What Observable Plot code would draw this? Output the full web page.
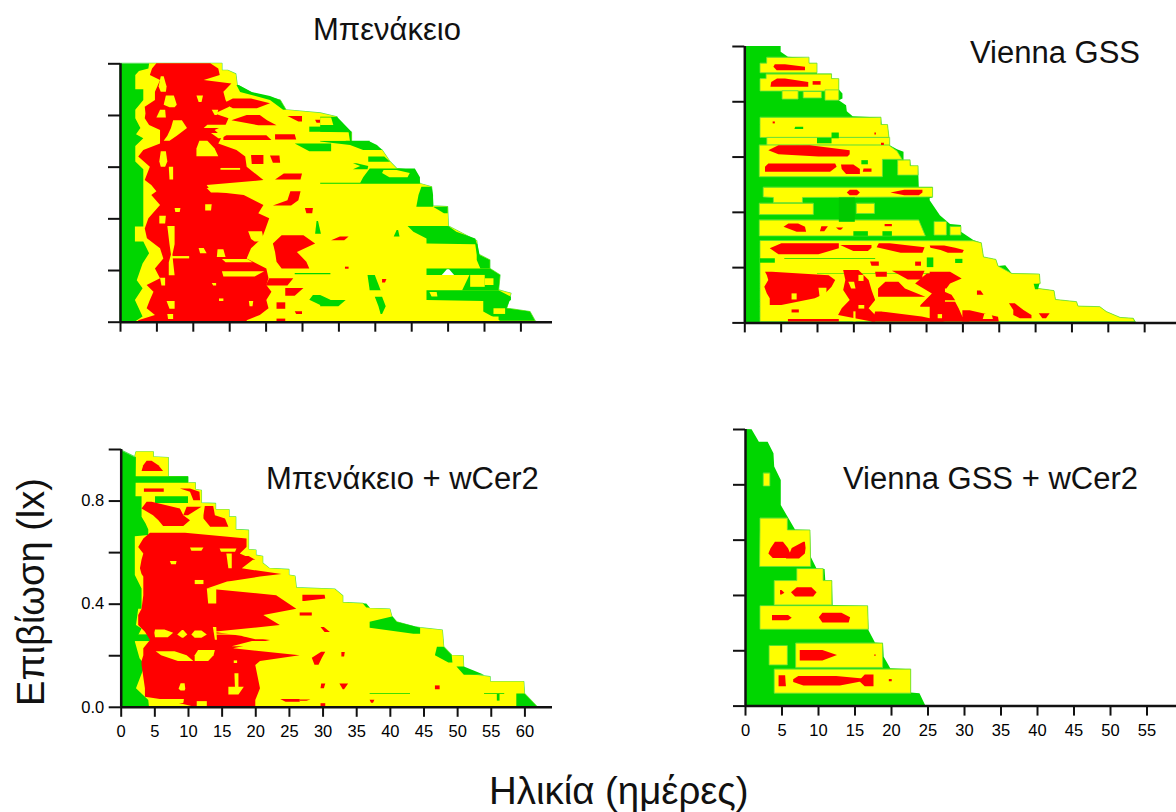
<!DOCTYPE html>
<html><head><meta charset="utf-8">
<script src="https://cdn.jsdelivr.net/npm/d3@7"></script>
<script src="https://cdn.jsdelivr.net/npm/@observablehq/plot@0.6"></script>
<style>
html,body{margin:0;padding:0;background:#fff;width:1176px;height:812px;overflow:hidden;font-family:"Liberation Sans",Arial,sans-serif}
#root{position:relative;width:1176px;height:812px;overflow:hidden}
#root svg{position:absolute;background:transparent;overflow:visible}
.t{position:absolute;white-space:nowrap;line-height:1;color:#111}
</style></head><body><div id="root"></div>
<script>
const GREEN="#00d600",YELLOW="#ffff00",RED="#ff0000",EDGE="#55e055";
const ageTicks=[0,5,10,15,20,25,30,35,40,45,50,55,60];
const lxTicks=[0,0.2,0.4,0.6,0.8,1];
const panelTitles=["Μπενάκειο","Vienna GSS","Μπενάκειο + wCer2","Vienna GSS + wCer2"];

// ---- Μπενάκειο: outline [lx, age]
const tlEdge=[[1,14],[.973,14],[.973,14.8],[.959,15.9],[.916,16.1],[.885,18.1],[.858,22],[.82,22.8],[.808,27.5],[.793,29.8],[.757,29.8],[.733,31.8],[.697,31.8],[.693,34.3],[.664,36],[.619,37.1],[.593,38],[.584,40.5],[.535,41.2],[.522,42.8],[.448,43],[.445,45],[.37,45.1],[.313,49],[.262,49.2],[.239,50.8],[.206,50.8],[.181,52.2],[.123,52],[.11,53.7],[.052,53.1],[.039,56.3],[.004,57],[0,57.2]];
const tlLeft=[[1,4],[.98,3.9],[.97,2.6],[.955,2.1],[.90,2.1],[.90,3.2],[.858,3.2],[.82,2.1],[.787,2.1],[.75,2.8],[.725,2.2],[.71,3.2],[.68,2.1],[.62,2.1],[.59,3.2],[.529,3.2],[.368,3.2],[.368,2.05],[.31,2.05],[.31,3.2],[.265,4],[.225,3.1],[.16,2.3],[.129,3.1],[.084,2.05],[.02,3.1],[0,2]];
const tlPatches=[
[[.916,16,16.3],[.889,16.5,18.1],[.873,18.6,20.6],[.858,20.6,22],[.82,22.4,22.8]],
[[.793,27.5,29.8],[.735,27.5,31.8],[.732,31.4,31.8],[.697,31.6,31.8]],
[[.7,27.5,34.3],[.697,27.5,34.3],[.684,31.6,35.3],[.664,33.4,36]],
[[.639,34.1,36.3],[.619,34.1,37.1]],
[[.613,32,32.5],[.603,33,34.1],[.59,32,34]],
[[.593,34.3,40.5],[.559,33.4,41.2],[.538,33,41.2],[.538,27.5,41.2],[.534,27.5,41.2]],
[[.522,41.4,42.8],[.49,41,43],[.445,40.7,43]],
[[.445,43,45],[.42,44.5,45]],
[[.37,39.5,45.1],[.348,40.3,46.2],[.322,42.1,48.8],[.303,42.1,49],[.30,48.8,49.1],[.258,49,49.4],[.239,49,50.8],[.206,49.5,50.8]],
[[.206,42.1,50.8],[.181,42.1,52.2]],
[[.181,48,52.2],[.122,47,52]],
[[.122,42.1,52],[.097,42.1,53.7],[.084,42.1,53.7],[.08,49.9,53.5],[.052,49.9,53.1],[.039,49.9,56.3],[.004,52.2,57]],
[[.355,38,38.2],[.33,37.6,38.4]],
[[.181,34,35],[.122,34.3,35.8]],
[[.084,27.5,31],[.06,27.5,30]],
[[.097,35,36],[.06,35.5,36.5],[.03,35.8,36]],
[[.69,24,29],[.66,26,29]],
[[.755,26,28.9],[.735,26,28.9]],
[[.103,26.5,27.5],[.085,26,28.9],[.065,27.5,28.9]],
[[.39,27,27.2],[.34,26.8,27.6]],
[[.188,24,28.9],[.184,24,28.9]]
];
const tlRed=[
[[1,5,12.4],[.98,4.4,13.5],[.955,4.1,13.7],[.935,5.5,11.5],[.922,5.3,15.3],[.89,4.8,14.2],[.858,4.8,14.5],[.832,3.4,15],[.806,3.5,13],[.787,3.4,14.9],[.761,4,14.5],[.742,5.5,13],[.716,5.5,14],[.69,5.5,13.5],[.664,3.2,16],[.639,2.5,17.2],[.6,4.1,17.4],[.548,3.4,19.7],[.529,4.3,11.9],[.505,5,12.5],[.49,4.3,17],[.452,5.5,19.7],[.42,4.5,19],[.40,3.9,20.5],[.361,3.4,20],[.323,3.7,19.5],[.284,5.5,18],[.245,5.95,17.4],[.206,4.8,20.1],[.168,5.5,20.4],[.142,3.66,20.1],[.116,4.6,20.8],[.084,4.1,20.1],[.052,3.66,20.4],[.026,4.8,19.2],[.006,2.5,17.4],[0,2.5,17.4]],
[[.864,15.5,18],[.845,14.2,20.6],[.826,15.5,18.8]],
[[.8,17.4,19.2],[.78,15.3,20.2],[.76,19,21.5]],
[[.722,14.2,20.1],[.703,14.2,20.8]],
[[.725,21.3,24],[.705,21.3,24.2]],
[[.645,18,19.7],[.61,18.1,19.7]],
[[.643,20.6,21.9],[.615,21,22]],
[[.574,22.5,25],[.55,21.3,24.8]],
[[.796,23,25],[.775,24.5,25]],
[[.782,26.8,27.5],[.77,27,27.5]],
[[.335,22.2,25.2],[.303,21,26.8],[.27,21.3,24.3],[.232,21.5,25.6],[.206,22.2,26]],
[[.168,20.5,23.8],[.14,20,23]],
[[.13,22.7,25.2],[.10,22.7,24]],
[[.075,21.5,22.7],[.05,21.5,22.7]],
[[.04,24,25],[.03,24.2,25]],
[[.012,21.5,22.7],[0,21.5,22.7]],
[[.44,25.4,26.5],[.42,25.6,26.4]],
[[.505,23.4,24.8],[.47,23,24.5],[.45,21,23.5]],
[[.33,30.2,31.4],[.315,29,30.8]],
[[.213,30.9,31.4],[.205,30.9,31.4]],
[[.165,36,36.6],[.152,36,36.4]]
];
const tlHoles=[
[[.95,5.6,6],[.91,5.3,6.4],[.89,5.6,6.3]],
[[.875,6.3,7.4],[.84,6,7.8],[.83,6.8,7.5]],
[[.82,5.5,6.2],[.79,5,6.3]],
[[.875,10.5,11.4],[.85,10.8,11.2]],
[[.82,12.6,13.5],[.80,13,13.3]],
[[.78,7.3,8.5],[.75,7,9.2],[.72,6.5,7.8],[.70,6,6.8]],
[[.70,10.9,12],[.67,10.5,13],[.64,10.5,13.5]],
[[.66,5.6,6.3],[.62,5.4,6.5],[.60,5.6,6.2]],
[[.60,6.7,7.3],[.55,6.8,7.3]],
[[.595,13.8,16.5],[.588,13.8,16.5]],
[[.762,12,15],[.75,11.5,16.5]],
[[.73,12.5,15],[.71,13.5,14]],
[[.41,5.4,6.3],[.38,5.4,6.2]],
[[.37,6.5,7.5],[.30,6.8,7.5],[.26,7,7.2],[.23,6.7,7.3],[.18,6.7,7.5]],
[[.254,7,9.5],[.245,7,9.5]],
[[.44,7.5,8.3],[.425,7.6,8.2]],
[[.455,11.7,12.6],[.43,11.7,12.5]],
[[.285,10.8,11.5],[.265,11,11.9]],
[[.28,13.4,14.2],[.25,13.3,14.5]],
[[.243,14,17.5],[.23,14.5,18.2]],
[[.195,14,19.8],[.175,14.2,18.5]],
[[.17,5.5,6.2],[.14,5.7,6.2]],
[[.08,6.4,7.5],[.05,6.8,7.5]],
[[.03,6.5,7.3],[.01,6.6,7.3]],
[[.08,17.7,18.3],[.06,17.8,18.2]],
[[.30,19.7,21],[.26,20,21.2]],
[[.35,17.6,19.5],[.32,18,19.7],[.31,18.5,19.2]],
[[.275,19,19.8],[.26,19,19.5]],
[[.09,13.6,14.2],[.08,13.6,14.2]],
[[.15,12.6,13.2],[.14,12.8,13.2]],
[[.517,11.9,16.8],[.50,12.5,16.5]],
[[.587,36.2,38],[.575,36,39.8],[.559,37,39.5]],
[[.79,27.5,29],[.761,27.5,29.3]],
[[.732,27.5,31.4],[.70,27.5,31]],
[[.15,41.5,42.5],[.135,42,43]],
[[.181,48.1,50.1],[.135,48.1,50.1]],
[[.168,50.1,51.3],[.142,50.1,51.3]],
[[.115,42.5,43.5],[.098,42.8,43.6]],
[[.052,51.3,52.9],[.03,51.3,52.9]],
[[.02,49.5,52],[.004,49.5,52]]
];
const tlGaps=[[[.203,44.9,45.2],[.181,44.2,45.9]]];

// ---- Vienna GSS
const trEdge=[[1,0],[1,5],[.979,5],[.961,6],[.957,8.9],[.938,8.9],[.937,10],[.9,10],[.9,12],[.882,12],[.88,13],[.843,13],[.828,13.5],[.81,13.5],[.804,13],[.786,14],[.764,14.1],[.746,14.9],[.741,18.8],[.716,18.9],[.714,19.7],[.669,19.9],[.641,20],[.626,21],[.617,21.9],[.587,21.9],[.587,22.8],[.567,22.9],[.565,23.9],[.49,24],[.49,25.9],[.452,25.9],[.45,25.5],[.442,25.5],[.388,26.9],[.356,28.3],[.352,29.8],[.328,29.8],[.298,31.5],[.288,32.6],[.237,32.9],[.228,34.6],[.204,34.9],[.207,35.9],[.177,36.8],[.175,40.6],[.141,40.7],[.135,40],[.123,40.4],[.115,42.6],[.083,42.8],[.075,45.7],[.059,45.9],[.057,48.9],[.039,49.8],[.018,51.7],[.015,53.5],[0,53.9]];
const trYellow=[
[[.958,3.08,8.9],[.938,3.08,8.9],[.938,2.16,10],[.903,2.16,10]],
[[.898,3,12],[.882,3,12],[.882,2.16,13],[.837,2.16,13]],
[[.837,5.2,7.4],[.808,5.2,7.4]],
[[.834,8.1,10.6],[.812,8.1,10.6]],
[[.84,11.1,13],[.804,11.1,13]],
[[.741,2.16,18.8],[.716,2.16,18.8],[.716,2.16,19.7],[.669,2.16,19.9]],
[[.668,3.1,20],[.641,3.1,20]],
[[.641,2.06,19.9],[.62,2.06,21],[.59,2.06,21.7],[.59,2.06,19],[.527,2.06,19]],
[[.587,21.1,22.8],[.567,21.1,22.8],[.567,21.1,23.9],[.533,21.1,23.9]],
[[.488,2.6,25.9],[.454,2.6,25.9],[.452,4,8],[.433,4,8]],
[[.43,2.06,9.5],[.39,2.06,9.5]],
[[.43,15.4,17.9],[.394,15.4,17.9]],
[[.37,2.06,24],[.313,2.06,24.9]],
[[.364,26.1,27.8],[.316,26.1,27.8]],
[[.346,28.3,29.8],[.316,28.3,29.8]],
[[.295,2.16,31.5],[.288,2.16,32.6],[.237,2.16,32.9],[.228,2.16,34.6],[.204,2.16,34.9],[.177,2.16,36.8],[.175,2.16,40.6],[.141,2.16,40.7],[.135,2.16,40],[.123,2.16,40.4],[.115,2.16,42.6],[.083,2.16,42.8],[.075,2.16,45.7],[.059,2.16,45.9],[.057,2.16,48.9],[.039,2.16,49.8],[.018,2.16,51.7],[.015,2.16,53.5],[.003,2.16,53.7]]
];
const trPatches=[
[[.708,7,8.1],[.70,6.9,8.1]],
[[.668,10,12],[.648,10,12]],
[[.687,12,13],[.666,12,13]],
[[.587,16.1,17],[.572,16.1,17]],
[[.33,15,17],[.313,15,17]],
[[.33,19,20.3],[.313,19,20.3]],
[[.232,2.16,4.2],[.216,2.16,4.2]],
[[.235,25.1,26],[.2,25.1,26]],
[[.23,29,30],[.215,29,30]],
[[.14,39.8,40.6],[.12,40,40.4]],
[[.233,5.5,18],[.23,5.5,18]],
[[.178,10,26],[.176,10,26]]
];
const trDark=[[[.452,13,15.2],[.364,13,15.2]]];
const trRed=[
[[.934,4.2,5.6],[.925,4,8.35],[.912,4.45,8.35]],
[[.882,4.5,5.6],[.87,3.7,8.8],[.853,3.6,8.8]],
[[.873,9.4,10.5],[.86,9.4,10.5]],
[[.727,3.9,4.2],[.72,3.9,4.2]],
[[.687,17.9,18.1],[.68,17.9,18.1]],
[[.65,18.8,19.2],[.642,18.8,19.2]],
[[.641,4.7,9],[.623,3.3,14.5],[.608,4.7,14.5],[.6,10.2,14.2]],
[[.575,3.3,12.5],[.563,2.85,12.7],[.545,2.85,11.8]],
[[.571,13.3,15],[.555,13.4,15.9],[.537,14,15.9]],
[[.557,16.4,17.5],[.545,16.3,17.5]],
[[.48,14.5,15.5],[.47,14.1,15.9],[.46,14.5,15.5]],
[[.48,22,24.5],[.47,20.1,24.5],[.46,22,24]],
[[.358,6.06,7.4],[.346,5.4,8.35],[.328,7.2,8.5]],
[[.348,10.6,11.5],[.33,10.4,11]],
[[.343,12.6,13.6],[.335,13,13.3]],
[[.356,19.3,20.3],[.348,19.3,20.3]],
[[.286,5.1,13],[.268,3.5,13],[.247,4.7,10.2]],
[[.28,13.2,17.5],[.27,14,17.5],[.258,15,17]],
[[.286,18.5,20],[.272,18.2,24.8],[.252,21.5,24.5]],
[[.278,25.5,27.5],[.27,25.6,29],[.262,27,30.2],[.252,28,30]],
[[.22,17.3,18.5],[.205,17.5,18.5]],
[[.22,23.5,24.3],[.205,23.5,24.3]],
[[.183,2.85,3.8],[.171,3.1,11.6],[.153,3.3,12.5],[.129,2.75,12],[.105,3.1,11.1],[.087,3.5,9.7],[.063,3.5,5.1]],
[[.19,13.6,15.7],[.153,13.9,17.1],[.117,13.6,17.5],[.081,14.5,18],[.051,13.4,17.1],[.027,12.9,18],[.003,17.5,18]],
[[.183,18,19.6],[.165,18.1,19.6]],
[[.187,20.3,24.8],[.17,21.5,24.5],[.155,22.5,24.5]],
[[.147,19.4,21.2],[.123,18.4,22.1],[.093,18.4,24.9]],
[[.039,18,18.9],[.021,17.8,24.4],[.003,17.5,27.6]],
[[.177,25.1,27.6],[.141,23.5,27.6],[.105,25.8,27.6],[.057,24,27.6]],
[[.183,25.5,28.3],[.159,25.5,29.9],[.141,25.5,28.3],[.123,25.5,27.8]],
[[.117,25.5,27],[.10,27,28.5],[.08,25.5,29]],
[[.075,25.5,29],[.05,25.5,29.5],[.02,25.5,30],[.003,25.5,31]],
[[.044,30,31],[.02,30,34.9],[.003,30,35]],
[[.069,36.4,37.2],[.045,37,38.4],[.027,37,39.5],[.015,37.9,39.5]],
[[.033,40.5,42],[.015,41,41.5]],
[[.115,32,32.5],[.1,32,32.9]],
[[.047,6.5,7.5],[.036,6.5,7.5]],
[[.012,6,13],[.003,6,13]]
];
const trHoles=[
[[.147,14.3,15.1],[.123,14.7,15.3]],
[[.172,15.7,16.4],[.15,15.7,16.4]],
[[.105,6.5,7.2],[.083,6.5,7.2]],
[[.125,10.2,11.3],[.085,10.4,11.3]],
[[.063,15.7,16.5],[.05,15.7,16.5]],
[[.04,15,15.3],[.003,15,15.3]],
[[.087,18,24.2],[.05,18,24.2],[.04,19,23]],
[[.03,33,34],[.012,32.8,34.2]],
[[.03,26.6,27.2],[.015,26.6,27.2]]
];

// ---- Μπενάκειο + wCer2
const blEdge=[[1,0],[.995,.14],[.97,2.1],[.989,2.27],[.989,4.84],[.97,4.84],[.967,7.07],[.894,7.07],[.892,10],[.869,10],[.869,11.1],[.843,11.1],[.84,12],[.791,12],[.789,14.1],[.765,14.1],[.765,16.1],[.737,16.1],[.737,17.1],[.688,17.1],[.685,19],[.61,19],[.608,20.1],[.588,20.1],[.584,21.1],[.558,21.1],[.537,22.1],[.533,25],[.511,25],[.507,25.9],[.462,26.1],[.457,31.8],[.431,33],[.405,33],[.401,36],[.382,37],[.379,40],[.35,40.3],[.33,41],[.31,43.7],[.307,44.5],[.298,47.8],[.233,48],[.2,49.2],[.198,50.9],[.13,51],[.117,54.9],[.098,54.9],[.098,59.9],[.052,60],[0,61.9]];
const blLeft=[[.989,2.27],[.817,2.2],[.817,3.1],[.737,3.1],[.711,3.7],[.688,4.1],[.666,4.1],[.662,2.1],[.595,2.1],[.511,2.1],[.459,3.1],[.38,3.1],[.38,2.6],[.317,2.27],[.304,3.1],[.253,2.1],[.188,2.8],[.162,3.6],[.072,2.27],[.026,4.1],[0,4.2]];
const blPatches=[
[[.894,2.1,10],[.869,2.1,10]],
[[.817,5.1,10],[.791,5.1,10]],
[[.281,2.1,5.1],[.255,2.1,5.1]],
[[.401,36,36.5],[.385,36.5,37]],
[[.35,40.3,40.4],[.33,37,41],[.307,37,44.5],[.283,43.5,44.5]],
[[.233,47,48],[.2,46.7,49.2],[.172,48.7,49.3]],
[[.156,49.9,51],[.124,51,54]],
[[.052,58.8,60],[0,58.8,61.9]],
[[.053,37,43],[.05,37,43]],
[[.053,54,57],[.05,54,57]],
[[.05,55.9,56.3],[.024,55.9,56.3]]
];
const blRed=[
[[.954,3.85,4.6],[.937,3.35,5.6],[.915,3.1,6.3]],
[[.847,3.45,6.4],[.834,3.45,6.4]],
[[.847,8.8,10.3],[.834,10.3,11.7],[.801,10.8,11.8]],
[[.795,3.85,4.6],[.769,3.1,8.8],[.743,4.8,9.3],[.724,5.6,10.3],[.701,6.3,9.3]],
[[.776,9.8,12],[.743,9.3,10]],
[[.779,12.5,13.75],[.743,12.3,14],[.73,12.3,15.5],[.698,13.3,16]],
[[.675,4.35,9.55],[.653,3.36,18.7],[.62,2.6,18.7],[.595,3.36,17.7],[.571,3.1,19.7],[.537,2.86,18],[.515,3.1,23.9],[.505,3.36,20.7],[.485,3.36,15.7],[.459,3.36,12.8],[.433,3.36,23.1],[.38,3.1,26.1],[.356,2.6,21.2],[.317,2.6,23.65],[.291,3.6,13.75],[.259,4.35,22.2],[.227,3.36,16.7],[.2,3.36,26.6],[.178,3.1,20.7],[.162,3.1,20],[.072,3.6,20.7],[.039,3.6,20.2],[.026,6.8,20],[.001,10.8,20]],
[[.585,18,19],[.57,19,20]],
[[.435,27,30.3],[.42,27,30.4],[.41,27,27.3]],
[[.366,26.6,28.4],[.354,26.6,28.4]],
[[.31,29.7,30.2],[.29,30.3,31.1]],
[[.214,29.8,30.4],[.19,28.4,29.9],[.163,28.8,29.4]],
[[.213,32.8,33.3],[.195,32.8,33.2]],
[[.09,29.8,30.4],[.072,29.7,30.2]],
[[.09,32.5,33.8],[.068,33,33.2]],
[[.083,46.7,47.4],[.068,46.7,47.4]],
[[.027,37,37.7],[.016,37.2,37.5]],
[[.028,26.6,28.2],[.023,26.6,27.6]],
[[.014,29.7,30.4],[0,29.7,30.4]],
[[.03,23.7,26.6],[.02,24.5,26.6]]
];
const blHoles=[
[[.618,10.3,12.3],[.605,10.5,12]],
[[.614,14.7,17.2],[.601,14.9,17]],
[[.566,7.3,8.3],[.553,7.5,8.2]],
[[.595,15.7,16.5],[.537,16,16.5]],
[[.492,11,12.3],[.476,11,12.3]],
[[.459,12.8,14.2],[.401,13,14.2]],
[[.485,15.7,26],[.468,18,24]],
[[.30,5.1,6.5],[.287,5,7.8],[.27,5.1,7]],
[[.298,9.1,9.3],[.28,8.4,9.9],[.268,9.1,9.3]],
[[.296,11,12],[.28,10.5,12.8],[.268,11,12]],
[[.31,13.7,14.2],[.26,14,14.3]],
[[.284,14.2,17],[.28,14.2,17]],
[[.292,18,25],[.275,18,26],[.262,20,24]],
[[.255,19.5,25.5],[.235,16.5,24]],
[[.215,5.2,8],[.2,6,9.8],[.178,8.5,10.8]],
[[.22,11.5,14],[.2,11,13.8],[.178,11,13]],
[[.091,8.9,9.5],[.07,8.6,9.6],[.063,8.9,9.5]],
[[.13,16.9,17.5],[.06,17,17.5]],
[[.078,16,18.3],[.048,16,17.5]],
[[.03,4.3,9.4],[.015,4.3,9.3]],
[[.022,11.3,12.8],[0,11.3,12.8]],
[[.18,16.8,17.3],[.17,16.8,17.3]]
];

// ---- Vienna GSS + wCer2
const brEdge=[[1,0],[.999,.9],[.954,1.9],[.954,3.1],[.912,3.9],[.864,4],[.816,4.9],[.725,4.9],[.637,6.85],[.635,8.9],[.538,9],[.496,9.8],[.494,10.9],[.452,11],[.452,11.9],[.364,12],[.36,16.8],[.273,16.9],[.228,17.8],[.225,18.9],[.177,19],[.135,19.9],[.131,22.7],[.047,22.7],[.045,23.9],[0,24.7]];
const brYellow=[
[[.84,2.5,3.4],[.794,2.5,3.4]],
[[.677,2.05,5.8],[.635,2.05,5.8],[.635,2.05,8.9],[.503,2,9]],
[[.494,7.1,10.7],[.452,7.1,10.7],[.452,4,11.9],[.364,4,11.9]],
[[.36,2.05,16.8],[.276,2.05,16.9]],
[[.216,3.3,5.8],[.147,3.3,5.8]],
[[.225,6.94,18.85],[.138,6.94,18.85]],
[[.131,4,22.7],[.045,4,22.7]]
];
const brRed=[
[[.592,4.1,5.2],[.569,3.5,5.9],[.55,3.2,6.2],[.534,3.8,7]],
[[.592,8,8.2],[.57,6.4,8.3],[.55,6.1,8.2],[.532,5.6,7.4]],
[[.418,4.8,5],[.408,4.8,5.4],[.402,4.8,5]],
[[.428,7.1,9.1],[.41,6.3,9.8],[.394,6.85,9.35]],
[[.328,3.7,5.9],[.318,3.7,6.4],[.309,3.7,5.9]],
[[.336,10.6,13.2],[.319,10.1,14.4],[.3,10.6,14.2]],
[[.201,7.5,10.6],[.183,7.5,12.6],[.163,7.5,10.6]],
[[.185,17.7,17.9],[.18,17.7,17.9]],
[[.11,4.6,5.5],[.07,4.6,5.6]],
[[.107,7.3,12.5],[.095,6.6,17.2],[.085,6.6,15.5],[.073,8,13]],
[[.112,16.4,17.6],[.09,15.6,17.6],[.07,16.4,17.6]],
[[.096,19.7,20.1],[.088,19.7,20.1]]
];

// ----- drawing
const rows=blobs=>blobs.flatMap((b,i)=>b.map(([lx,a1,a2])=>({lx,a1,a2,id:i})));
const layer=(blobs,fill,extra={})=>Plot.areaX(rows(blobs),{y:"lx",x1:"a1",x2:"a2",z:"id",fill,...extra});
const root=document.getElementById("root");

function panel({left,top,width,height,x0,xEnd,yTop,yZero,xMax,showX,showY,marks}){
  const svg=Plot.plot({
    width,height,
    marginLeft:x0-left,marginRight:left+width-xEnd,marginTop:yTop-top,marginBottom:top+height-yZero,
    x:{domain:[0,xMax],label:null},
    y:{domain:[0,1],label:null},
    style:{fontFamily:"'Liberation Sans',Arial,sans-serif",color:"#000",background:"transparent"},
    marks:[
      ...marks,
      Plot.axisX({ticks:ageTicks.filter(t=>t<=xMax),tickSize:10,strokeWidth:2,stroke:"#111",tickPadding:8,label:null,fontSize:16.5,tickFormat:showX?d=>String(d):()=>""}),
      Plot.axisY({ticks:lxTicks,tickSize:12,strokeWidth:2,stroke:"#111",tickPadding:5,label:null,fontSize:16.5,tickFormat:showY?(d=>(Math.round(d*10)%4===0&&d<1?d.toFixed(1):"")):()=>""}),
      Plot.ruleY([0],{stroke:"#111",strokeWidth:2.5}),
      Plot.ruleX([0],{stroke:"#111",strokeWidth:2.5})
    ]
  });
  svg.style.left=left+"px";svg.style.top=top+"px";
  root.appendChild(svg);
}
const envelope=e=>[e.map(([lx,a])=>[lx,0,a])];
const sideR=(e,s)=>[e.map(([lx,a])=>[lx,s,a])];
const sideL=(e,s)=>[e.map(([lx,a])=>[lx,a,s])];

panel({left:40,top:40,width:530,height:310,x0:120,xEnd:552,yTop:63.3,yZero:321.7,xMax:59.34,showX:false,showY:false,marks:[
  layer(envelope(tlEdge),GREEN,{stroke:EDGE,strokeWidth:1.2}),
  layer(sideR(tlEdge,5),YELLOW),layer(sideL(tlLeft,6),YELLOW),
  layer(tlPatches,GREEN),layer(tlRed,RED),layer(tlHoles,YELLOW),layer(tlGaps,"#ffffff")
]});
panel({left:665,top:25,width:511,height:325,x0:744.3,xEnd:1176,yTop:46,yZero:322.4,xMax:59.38,showX:false,showY:false,marks:[
  layer(envelope(trEdge),GREEN),
  layer(trYellow,YELLOW,{stroke:"#6be03a",strokeWidth:.8}),
  layer(trPatches,GREEN),layer(trDark,"#00c800"),layer(trRed,RED),layer(trHoles,YELLOW)
]});
panel({left:40,top:430,width:530,height:320,x0:120.7,xEnd:552,yTop:449,yZero:706.8,xMax:64.1,showX:true,showY:true,marks:[
  layer(envelope(blEdge),GREEN,{stroke:EDGE,strokeWidth:1.2}),
  layer(sideR(blEdge.filter(d=>d[0]<=.99),4.2),YELLOW),layer(sideL(blLeft,4.8),YELLOW),
  layer(blPatches,GREEN),layer(blRed,RED),layer(blHoles,YELLOW)
]});
panel({left:665,top:410,width:511,height:340,x0:745,xEnd:1176,yTop:429,yZero:705.6,xMax:59.04,showX:true,showY:false,marks:[
  layer(envelope(brEdge),GREEN),
  layer(brYellow,YELLOW,{stroke:"#6be03a",strokeWidth:.8}),
  layer(brRed,RED)
]});

function text(s,left,top,size,rot){
  const d=document.createElement("div");d.className="t";d.textContent=s;
  d.style.left=left+"px";d.style.top=top+"px";d.style.fontSize=size+"px";
  if(rot){d.style.transform="translate(-50%,-50%) rotate(-90deg)";}
  root.appendChild(d);
}
text(panelTitles[0],313,14,31);
text(panelTitles[1],970,37,31);
text(panelTitles[2],266,463,31);
text(panelTitles[3],843,463,31);
text("Επιβίωση (lx)",31,592,38,true);
text("Ηλικία (ημέρες)",489,772,38.4);
</script></body></html>
